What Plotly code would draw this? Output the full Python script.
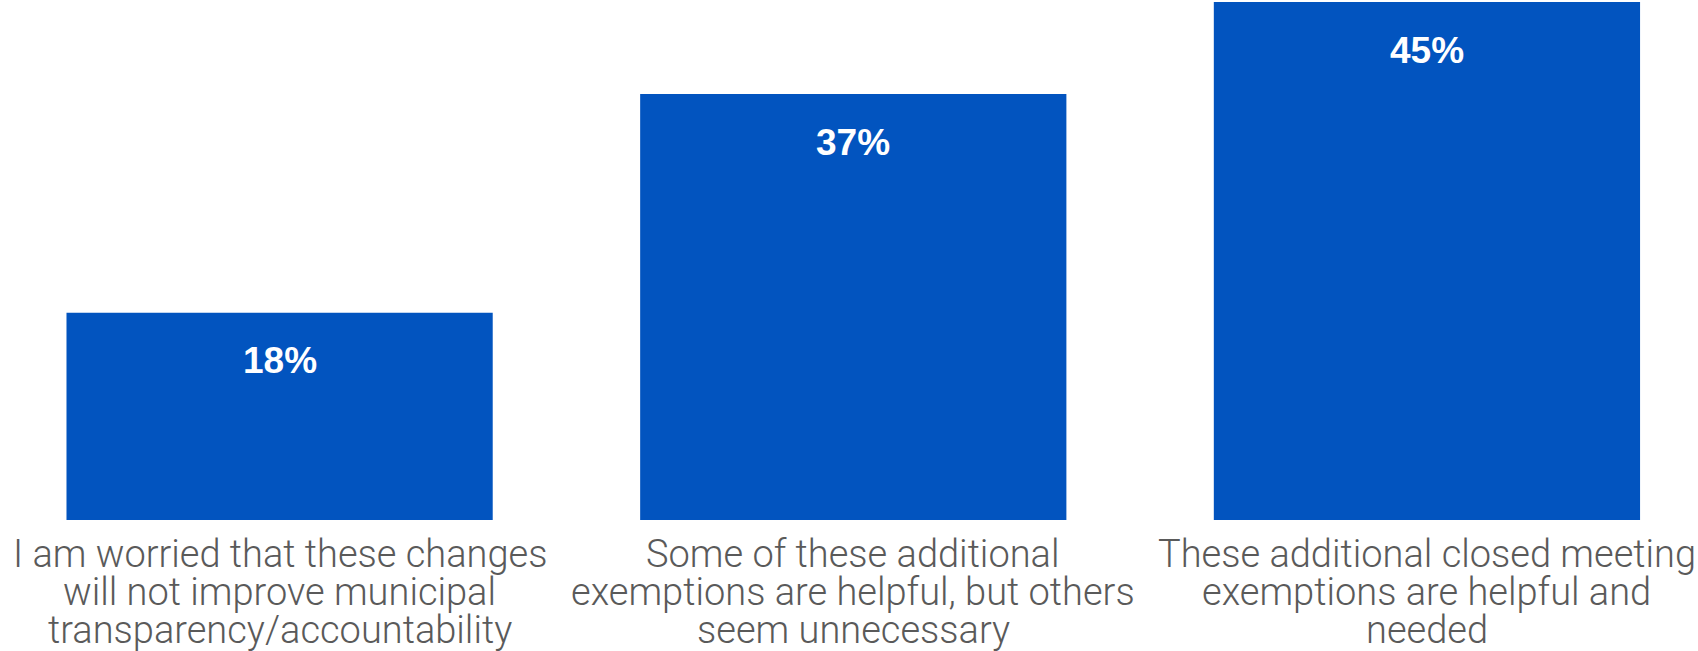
import plotly.graph_objects as go

# Survey responses on closed meeting exemptions
categories = [
    "I am worried that these changes<br>will not improve municipal<br>transparency/accountability",
    "Some of these additional<br>exemptions are helpful, but others<br>seem unnecessary",
    "These additional closed meeting<br>exemptions are helpful and<br>needed",
]
shares = [18, 37, 45]
share_labels = ["18%", "37%", "45%"]

BAR_COLOR = "#0254BF"
LABEL_GRAY = "#5A5A5A"
VALUE_FONT = "Liberation Sans, Arial, sans-serif"
LABEL_FONT = "Roboto, Liberation Sans, Arial, sans-serif"

x_pos = list(range(len(categories)))

fig = go.Figure(
    go.Bar(
        x=x_pos,
        y=shares,
        marker=dict(color=BAR_COLOR, line=dict(width=0)),
        hoverinfo="skip",
    )
)

annotations = []
# value labels inside the top of each bar
for xi, v, lab in zip(x_pos, shares, share_labels):
    annotations.append(dict(
        x=xi, y=v, xref="x", yref="y", text=f"<b>{lab}</b>",
        showarrow=False, yanchor="middle", yshift=-48,
        font=dict(family=VALUE_FONT, size=37, color="white"),
    ))

# category labels, one annotation per line for tight line spacing
line_offsets = [-34, -72, -110]
for xi, cat in zip(x_pos, categories):
    for line, off in zip(cat.split("<br>"), line_offsets):
        annotations.append(dict(
            x=xi, y=0, xref="x", yref="y", text=line,
            showarrow=False, yanchor="middle", yshift=off,
            font=dict(family=LABEL_FONT, size=38, color=LABEL_GRAY, weight=300),
        ))

fig.update_layout(
    width=1698,
    height=651,
    margin=dict(l=0, r=0, t=2, b=131),
    paper_bgcolor="white",
    plot_bgcolor="white",
    bargap=0.257,
    showlegend=False,
    annotations=annotations,
    xaxis=dict(range=[-0.4874, 2.4725], showticklabels=False, showgrid=False,
               zeroline=False, showline=False, ticks=""),
    yaxis=dict(range=[0, 45], showticklabels=False, showgrid=False,
               zeroline=False, showline=False, ticks=""),
)

fig.write_html("out.html")
